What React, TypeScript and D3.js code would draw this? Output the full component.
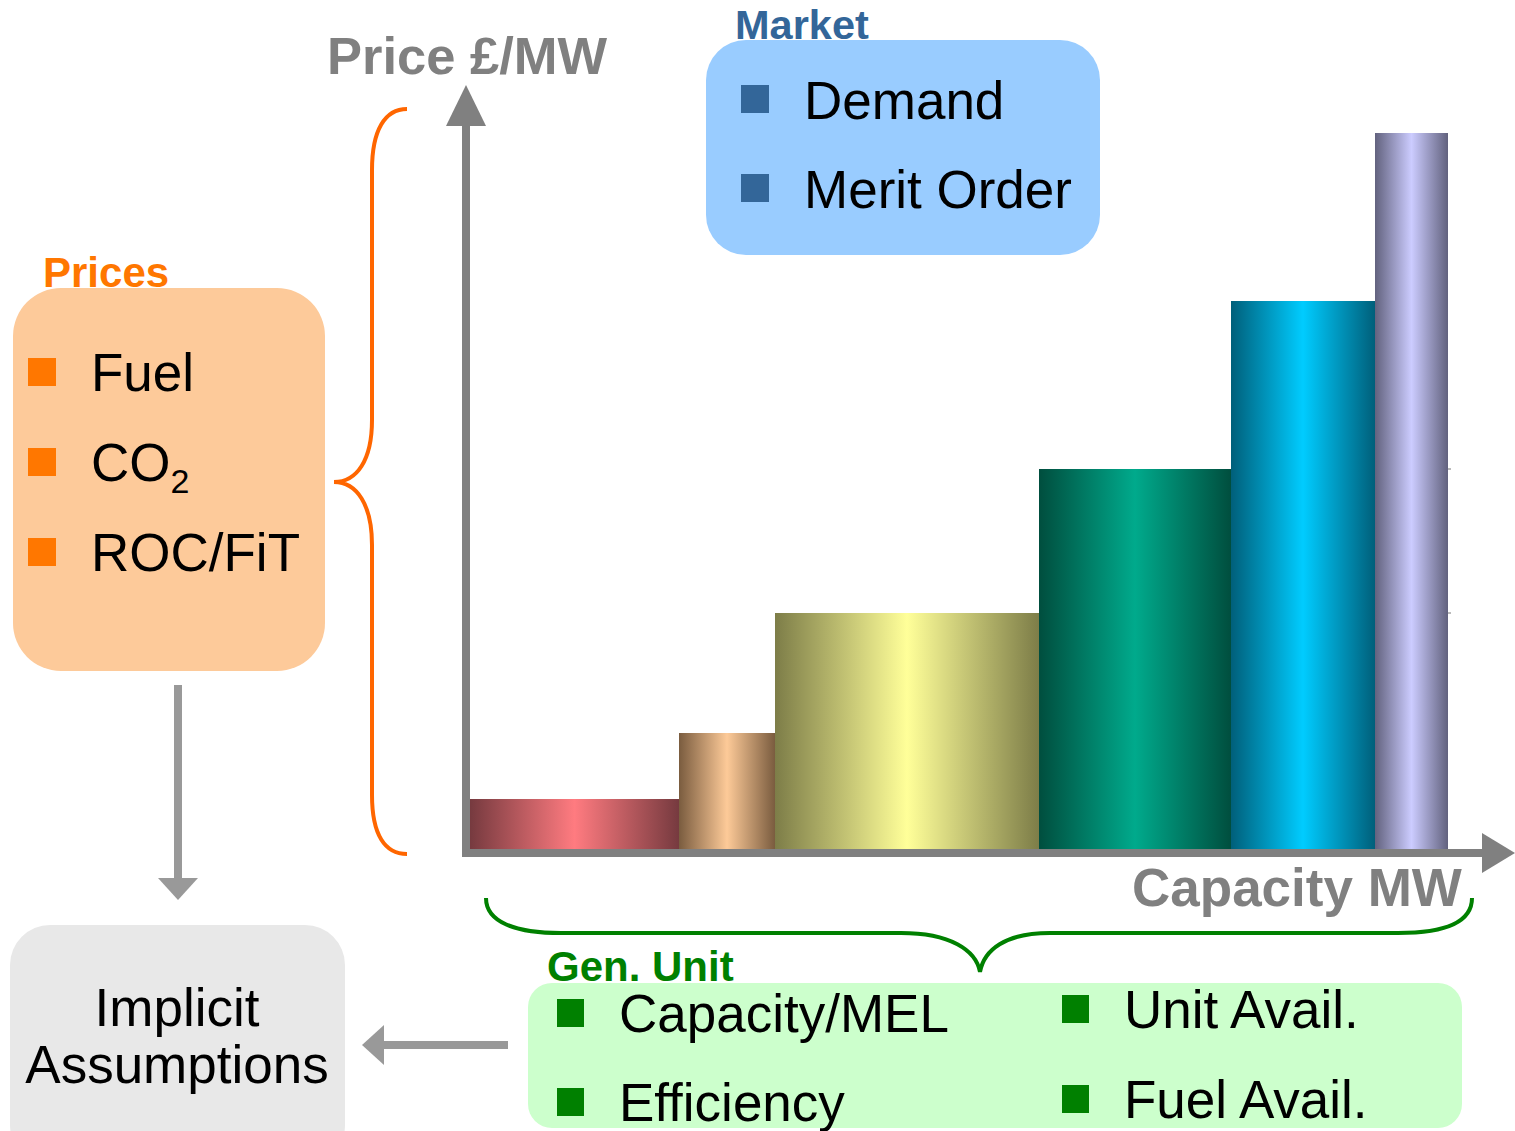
import React from "react";
import * as d3 from "d3";

// ---- data ----
const capacityMW = [209, 96, 264, 192, 144, 73];
const pricePerMW = [50, 116, 236, 380, 548, 716];
const marketItems = ["Demand", "Merit Order"];
const priceItems = ["Fuel", "CO2", "ROC/FiT"];
const genUnitLeft = ["Capacity/MEL", "Efficiency"];
const genUnitRight = ["Unit Avail.", "Fuel Avail."];

// ---- styles ----
const edgeColors = ["#763a3f", "#7a5c3f", "#7d7d48", "#004e3e", "#005f7a", "#62627e"];
const centerColors = ["#ff7b80", "#fdca98", "#ffff99", "#00aa8c", "#00ccff", "#ccccff"];
const FONT = "'Liberation Sans', Arial, sans-serif";

export default function App() {
  const starts = [0, ...Array.from(d3.cumsum(capacityMW))];
  const total = d3.sum(capacityMW);
  const x = d3.scaleLinear().domain([0, total]).range([470, 1448]);
  const y = d3.scaleLinear().domain([0, d3.max(pricePerMW)!]).range([849, 133]);

  const axisGray = "#808080";
  const arrowGray = "#999999";

  return (
    <svg
      width={1515}
      height={1131}
      style={{ position: "absolute", left: 0, top: 0, display: "block", background: "#fff" }}
      fontFamily={FONT}
    >
      <defs>
        {capacityMW.map((_, i) => (
          <linearGradient key={i} id={`bar${i}`} x1="0" y1="0" x2="1" y2="0">
            <stop offset="0" stopColor={edgeColors[i]} />
            <stop offset="0.5" stopColor={centerColors[i]} />
            <stop offset="1" stopColor={edgeColors[i]} />
          </linearGradient>
        ))}
      </defs>

      {/* bars */}
      {capacityMW.map((c, i) => (
        <rect
          key={i}
          x={x(starts[i])}
          y={y(pricePerMW[i])}
          width={x(starts[i] + c) - x(starts[i])}
          height={y(0) - y(pricePerMW[i])}
          fill={`url(#bar${i})`}
        />
      ))}
      {/* small ticks at right edge */}
      {[pricePerMW[2], pricePerMW[3]].map((p, i) => (
        <line key={i} x1={x(total)} x2={x(total) + 3} y1={y(p)} y2={y(p)} stroke="#777" strokeWidth={1} />
      ))}

      {/* axes */}
      <rect x={462} y={120} width={8} height={737} fill={axisGray} />
      <polygon points="446,126 486,126 466,85" fill={axisGray} />
      <rect x={462} y={849} width={1022} height={8} fill={axisGray} />
      <polygon points="1482,833 1482,873 1515,853" fill={axisGray} />

      <text x={327} y={74} fontSize={52.5} fontWeight="bold" fill={axisGray}>Price £/MW</text>
      <text x={1132} y={906} fontSize={53} fontWeight="bold" fill={axisGray}>Capacity MW</text>

      {/* Market box */}
      <rect x={706} y={40} width={394} height={215} rx={40} fill="#99ccff" />
      <text x={735} y={39} fontSize={41.5} fontWeight="bold" fill="#336699">Market</text>
      {marketItems.map((t, i) => (
        <g key={t}>
          <rect x={741} y={85 + i * 89} width={28} height={28} fill="#336699" />
          <text x={804} y={119 + i * 89} fontSize={53} fill="#000">{t}</text>
        </g>
      ))}

      {/* Prices box */}
      <rect x={13} y={288} width={312} height={383} rx={48} fill="#fdca9a" />
      <text x={43} y={287} fontSize={42} fontWeight="bold" fill="#ff7700">Prices</text>
      {priceItems.map((t, i) => (
        <g key={t}>
          <rect x={28} y={358 + i * 90} width={28} height={28} fill="#ff7700" />
          {t === "CO2" ? (
            <text x={91} y={391 + i * 90} fontSize={53} fill="#000">
              CO<tspan fontSize={34} dy={12}>2</tspan>
            </text>
          ) : (
            <text x={91} y={391 + i * 90} fontSize={53} fill="#000">{t}</text>
          )}
        </g>
      ))}

      {/* orange brace */}
      <path
        d="M407,109 C385,109 372,130 372,170 L372,420 C372,460 357,482 334,482 C357,482 372,505 372,545 L372,795 C372,835 385,854 407,854"
        fill="none"
        stroke="#ff6600"
        strokeWidth={4}
      />

      {/* down arrow */}
      <rect x={174} y={685} width={8} height={195} fill={arrowGray} />
      <polygon points="158,878 198,878 178,900" fill={arrowGray} />

      {/* Implicit assumptions box */}
      <rect x={10} y={925} width={335} height={240} rx={40} fill="#e8e8e8" />
      <text x={177} y={1026} fontSize={53} textAnchor="middle" fill="#000">Implicit</text>
      <text x={177} y={1083} fontSize={53} textAnchor="middle" fill="#000">Assumptions</text>

      {/* left arrow */}
      <rect x={382} y={1041} width={126} height={8} fill={arrowGray} />
      <polygon points="384,1025 384,1065 362,1045" fill={arrowGray} />

      {/* green brace */}
      <path
        d="M486,898 C486,922 515,933 561,933 L901,933 C950,933 976,950 980,972 C984,950 1005,933 1050,933 L1398,933 C1445,933 1472,922 1472,898"
        fill="none"
        stroke="#008000"
        strokeWidth={4}
      />

      {/* Gen. Unit box */}
      <rect x={528} y={983} width={934} height={145} rx={24} fill="#ccffcc" />
      <text x={547} y={981} fontSize={42} fontWeight="bold" fill="#008000">Gen. Unit</text>
      {genUnitLeft.map((t, i) => (
        <g key={t}>
          <rect x={557} y={999 + i * 89} width={27} height={28} fill="#008000" />
          <text x={619} y={1032 + i * 89} fontSize={53} fill="#000">{t}</text>
        </g>
      ))}
      {genUnitRight.map((t, i) => (
        <g key={t}>
          <rect x={1062} y={995 + i * 90} width={27} height={28} fill="#008000" />
          <text x={1124} y={1028 + i * 90} fontSize={53} fill="#000">{t}</text>
        </g>
      ))}
    </svg>
  );
}
